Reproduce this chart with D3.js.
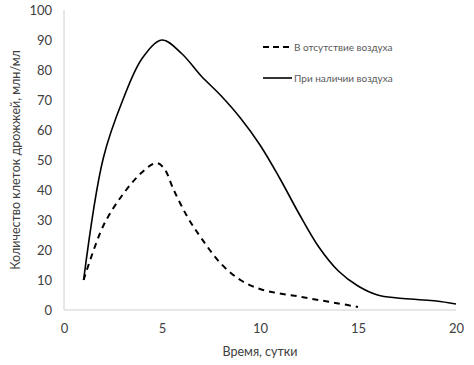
<!DOCTYPE html>
<html><head><meta charset="utf-8">
<script src="https://cdn.jsdelivr.net/npm/d3@7"></script>
<style>body{margin:0;background:#fff}svg{display:block}</style>
</head><body>
<svg id="c" width="474" height="365"></svg>
<script>
const seriesNames = ["В отсутствие воздуха", "При наличии воздуха"];
const daysNoAir = [1, 2, 3, 4, 4.7, 5.1, 5.6, 6.3, 7, 8, 9, 10, 11, 12, 13, 14, 15];
const valsNoAir = [10, 28, 38.5, 46, 49, 47.3, 40, 31, 24, 15.5, 10, 7, 5.5, 4.5, 3.3, 2.2, 1];
const daysAir = [1, 2, 3, 4, 5, 6, 7, 8, 9, 10, 11, 12, 13, 14, 15, 16, 17, 18, 19, 20];
const valsAir = [10, 50.5, 70, 84, 90, 85.5, 78, 71.5, 64, 55, 44, 32, 21, 13, 8, 5, 4, 3.5, 3, 2];
const xTicks = [0, 5, 10, 15, 20];
const yTicks = [0, 10, 20, 30, 40, 50, 60, 70, 80, 90, 100];
const xTitle = "Время, сутки";
const yTitle = "Количество клеток дрожжей, млн/мл";

const svg = d3.select("#c");
const font = "Lato, 'Open Sans', sans-serif";
const x = d3.scaleLinear().domain([0, 20]).range([64, 456]);
const y = d3.scaleLinear().domain([0, 100]).range([310, 10]);

svg.append("line").attr("x1", x(0)).attr("x2", x(20)).attr("y1", y(0)).attr("y2", y(0))
  .attr("stroke", "#d0d0d0").attr("stroke-width", 1);
svg.append("line").attr("x1", x(0)).attr("x2", x(0)).attr("y1", y(0)).attr("y2", y(100))
  .attr("stroke", "#d0d0d0").attr("stroke-width", 1);

const xAxis = svg.append("g").attr("transform", `translate(0,${y(0)})`)
  .call(d3.axisBottom(x).tickValues(xTicks).tickSize(0).tickPadding(14));
const yAxis = svg.append("g").attr("transform", `translate(${x(0)},0)`)
  .call(d3.axisLeft(y).tickValues(yTicks).tickSize(0).tickPadding(12));
[xAxis, yAxis].forEach(g => {
  g.select(".domain").remove();
  g.selectAll("text").attr("font-family", font).attr("font-size", 13).attr("fill", "#404040");
});

svg.append("text").attr("x", (x(0) + x(20)) / 2).attr("y", 356).attr("text-anchor", "middle")
  .attr("font-family", font).attr("font-size", 12.5).attr("fill", "#404040").text(xTitle);
svg.append("text").attr("transform", `translate(20,${y(50)}) rotate(-90)`).attr("text-anchor", "middle")
  .attr("font-family", font).attr("font-size", 12.5).attr("fill", "#404040").text(yTitle);

const line = d3.line().x(d => x(d[0])).y(d => y(d[1])).curve(d3.curveCatmullRom.alpha(0.5));
svg.append("path").datum(daysNoAir.map((d, i) => [d, valsNoAir[i]]))
  .attr("d", line).attr("fill", "none").attr("stroke", "#000").attr("stroke-width", 2)
  .attr("stroke-dasharray", "6,5");
svg.append("path").datum(daysAir.map((d, i) => [d, valsAir[i]]))
  .attr("d", line).attr("fill", "none").attr("stroke", "#000").attr("stroke-width", 1.6);

const leg = [{y: 47, dash: "6,4", w: 2}, {y: 78, dash: null, w: 1.6}];
leg.forEach((l, i) => {
  svg.append("line").attr("x1", 263).attr("x2", 292).attr("y1", l.y).attr("y2", l.y)
    .attr("stroke", "#000").attr("stroke-width", l.w).attr("stroke-dasharray", l.dash);
  svg.append("text").attr("x", 294).attr("y", l.y).attr("dy", "0.35em")
    .attr("font-family", font).attr("font-size", 10).attr("fill", "#595959").text(seriesNames[i]);
});
</script>
</body></html>
